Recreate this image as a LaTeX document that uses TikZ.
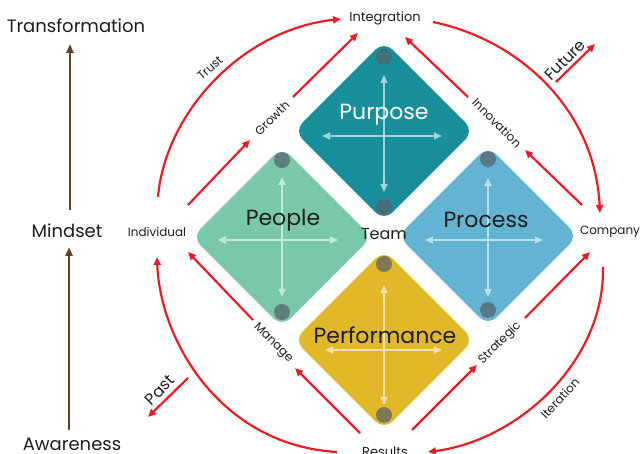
\documentclass[tikz,border=0pt]{standalone}
\usepackage{fontspec}
\setmainfont{Poppins}
\usetikzlibrary{arrows.meta,shapes.geometric}
\definecolor{redarr}{RGB}{236,28,36}
\definecolor{brownarr}{RGB}{100,66,34}
\definecolor{cPurpose}{RGB}{25,143,156}
\definecolor{cPeople}{RGB}{121,201,169}
\definecolor{cProcess}{RGB}{99,179,210}
\definecolor{cPerf}{RGB}{225,185,40}
\definecolor{dotgray}{RGB}{85,95,105}
\definecolor{txt}{RGB}{30,30,30}
\tikzset{
  dia/.style={diamond, minimum width=180pt, minimum height=180pt, inner sep=0pt, rounded corners=12pt, draw=none},
  corner dot/.style={fill=dotgray, fill opacity=0.7},
  cross/.style={line width=1.8pt, {Triangle[length=8pt,width=7pt]}-{Triangle[length=8pt,width=7pt]}},
  redline/.style={draw=redarr, line width=2.2pt, -{Triangle[length=8pt,width=7pt]}},
  brownline/.style={draw=brownarr, line width=2.4pt, -{Triangle[length=9pt,width=7pt]}},
  bigtxt/.style={text=txt, font=\fontsize{18}{20}\selectfont, inner sep=0pt},
  midtxt/.style={text=txt, font=\fontsize{13}{15}\selectfont, inner sep=0pt},
  smalltxt/.style={text=txt, font=\fontsize{12}{14}\selectfont, inner sep=0pt},
  dirtxt/.style={text=txt, font=\fontsize{16}{18}\selectfont, inner sep=0pt},
  title/.style={font=\fontsize{22}{24}\selectfont, inner sep=0pt},
}
\begin{document}
\begin{tikzpicture}[x=1pt,y=-1pt]
\useasboundingbox (0,0) rectangle (641,454);

% diamonds
\node[dia, fill=cPurpose] (purpose) at (384,131) {};
\node[dia, fill=cPeople] (people) at (282,237) {};
\node[dia, fill=cProcess] (process) at (488,236) {};
\node[dia, fill=cPerf] (performance) at (384,340) {};

% crosses
\draw[cross, white!60!cPurpose] (384,75) -- (384,192);
\draw[cross, white!60!cPurpose] (322,136) -- (442,136);
\draw[cross, white!55!cPeople] (282,177) -- (282,297);
\draw[cross, white!55!cPeople] (218,240) -- (338,240);
\draw[cross, white!55!cProcess] (488,178) -- (488,297);
\draw[cross, white!55!cProcess] (425,240) -- (543,240);
\draw[cross, white!60!cPerf] (384,285) -- (384,405);
\draw[cross, white!60!cPerf] (325,350) -- (442,350);

% dots
\fill[corner dot] (384,57) circle (8pt);
\fill[corner dot] (384,207) circle (8pt);
\fill[corner dot] (282,160) circle (8pt);
\fill[corner dot] (282,312) circle (8pt);
\fill[corner dot] (488,159) circle (8pt);
\fill[corner dot] (488,310) circle (8pt);
\fill[corner dot] (384,264) circle (8pt);
\fill[corner dot] (384,415) circle (8pt);

% diamond titles
\node[title, text=white] (tPurpose) at (384,115) {Purpose};
\node[title, text=txt] (tPeople) at (283,220) {People};
\node[title, text=txt] (tProcess) at (486,220) {Process};
\node[title, text=txt] (tPerformance) at (385,335) {Performance};

% main labels
\node[bigtxt] (transformation) at (76,26) {Transformation};
\node[bigtxt] (mindset) at (67,231) {Mindset};
\node[bigtxt] (awareness) at (72,444) {Awareness};
\node[midtxt] (integration) at (385,18) {Integration};
\node[smalltxt] (individual) at (157,232) {Individual};
\node[smalltxt] (company) at (610,232) {Company};
\node[dirtxt] (team) at (384,234) {Team};
\node[midtxt] (results) at (385,452) {Results};

% brown arrows
\coordinate (b1s) at (70,210); \coordinate (b1e) at (70,44);
\coordinate (b2s) at (69,430); \coordinate (b2e) at (69,247);
\draw[brownline] (b1s) -- (b1e);
\draw[brownline] (b2s) -- (b2e);

% rotated labels
\node[smalltxt, rotate=42] (lTrust) at (210,68) {Trust};
\node[smalltxt, rotate=45] (lGrowth) at (272,118) {Growth};
\node[smalltxt, rotate=-45] (lInnovation) at (497,123) {Innovation};
\node[dirtxt, rotate=45] (lFuture) at (565,60) {Future};
\node[smalltxt, rotate=-45] (lManage) at (273,343) {Manage};
\node[dirtxt, rotate=45] (lPast) at (160,390) {Past};
\node[smalltxt, rotate=45] (lStrategic) at (500,343) {Strategic};
\node[smalltxt, rotate=47] (lIteration) at (560,398) {Iteration};

% coordinates for red connectors
\coordinate (gA) at (188,205); \coordinate (gB) at (250,140);
\coordinate (gC) at (293,97);  \coordinate (gD) at (358,33);
\coordinate (iA) at (582,205); \coordinate (iB) at (525,150);
\coordinate (iC) at (468,97);  \coordinate (iD) at (405,37);
\coordinate (mA) at (360,433); \coordinate (mB) at (295,368);
\coordinate (mC) at (253,320); \coordinate (mD) at (188,252);
\coordinate (sA) at (412,430); \coordinate (sB) at (477,365);
\coordinate (sC) at (525,318); \coordinate (sD) at (590,252);
\coordinate (tA) at (158,197); \coordinate (tB) at (341,19);
\coordinate (fA) at (433,22);  \coordinate (fB) at (600,213);
\coordinate (pA) at (337,452); \coordinate (pB) at (157,257);
\coordinate (itA) at (603,267); \coordinate (itB) at (428,452);
\coordinate (fuA) at (556,82); \coordinate (fuB) at (595,44);
\coordinate (paA) at (188,378); \coordinate (paB) at (148,417);

\draw[redline] (gA) -- (gB);
\draw[redline] (gC) -- (gD);
\draw[redline] (iA) -- (iB);
\draw[redline] (iC) -- (iD);
\draw[redline] (mA) -- (mB);
\draw[redline] (mC) -- (mD);
\draw[redline] (sA) -- (sB);
\draw[redline] (sC) -- (sD);
\draw[redline] (tA) .. controls (165,115) and (240,30) .. (tB);
\draw[redline] (fA) .. controls (520,40) and (595,110) .. (fB);
\draw[redline] (pA) .. controls (220,445) and (160,340) .. (pB);
\draw[redline] (itA) .. controls (605,360) and (520,440) .. (itB);
\draw[redline] (fuA) -- (fuB);
\draw[redline] (paA) -- (paB);
\end{tikzpicture}
\end{document}
